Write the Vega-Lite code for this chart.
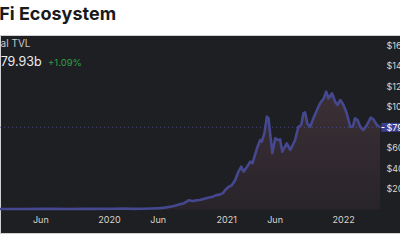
{
  "$schema": "https://vega.github.io/schema/vega-lite/v6.json",
  "width": 400,
  "height": 198,
  "autosize": {"type": "none"},
  "padding": {"top": 35, "left": 0, "right": 0, "bottom": 7},
  "background": "white",
  "title": {
    "text": "DeFi Ecosystem",
    "anchor": "start",
    "frame": "group",
    "font": "Inter",
    "fontSize": 18,
    "fontWeight": "bold",
    "color": "#1a1a1a",
    "dx": -24.5,
    "offset": 11
  },
  "config": {
    "view": {"fill": "#1e1f23", "stroke": "#d0d0d0", "strokeWidth": 1},
    "axis": {"labelFont": "Inter", "labelFontSize": 9, "labelColor": "#d9d6cc", "domain": false, "grid": false, "title": null}
  },
  "data": {
    "values": [
      {"date": "2019-01-26", "tvl": 0.5},
      {"date": "2019-03-01", "tvl": 0.5},
      {"date": "2019-04-15", "tvl": 0.55},
      {"date": "2019-06-01", "tvl": 0.6},
      {"date": "2019-07-15", "tvl": 0.6},
      {"date": "2019-09-01", "tvl": 0.55},
      {"date": "2019-10-15", "tvl": 0.6},
      {"date": "2019-12-01", "tvl": 0.65},
      {"date": "2020-01-15", "tvl": 0.7},
      {"date": "2020-02-15", "tvl": 0.9},
      {"date": "2020-03-15", "tvl": 0.6},
      {"date": "2020-04-15", "tvl": 0.8},
      {"date": "2020-05-15", "tvl": 1.0},
      {"date": "2020-06-10", "tvl": 1.3},
      {"date": "2020-06-24", "tvl": 1.8},
      {"date": "2020-07-05", "tvl": 2.4},
      {"date": "2020-07-15", "tvl": 3.0},
      {"date": "2020-07-25", "tvl": 3.6},
      {"date": "2020-08-09", "tvl": 5.0},
      {"date": "2020-08-20", "tvl": 5.8},
      {"date": "2020-08-30", "tvl": 7.6},
      {"date": "2020-09-05", "tvl": 9.0},
      {"date": "2020-09-19", "tvl": 8.3},
      {"date": "2020-10-01", "tvl": 9.0},
      {"date": "2020-10-11", "tvl": 9.2},
      {"date": "2020-10-25", "tvl": 10.5},
      {"date": "2020-11-05", "tvl": 11.5},
      {"date": "2020-11-20", "tvl": 12.5},
      {"date": "2020-12-01", "tvl": 14.0},
      {"date": "2020-12-12", "tvl": 14.5},
      {"date": "2020-12-22", "tvl": 16.0},
      {"date": "2020-12-29", "tvl": 19.0},
      {"date": "2021-01-08", "tvl": 22.0},
      {"date": "2021-01-19", "tvl": 23.8},
      {"date": "2021-01-29", "tvl": 28.7},
      {"date": "2021-02-08", "tvl": 36.8},
      {"date": "2021-02-17", "tvl": 41.6},
      {"date": "2021-02-24", "tvl": 36.8},
      {"date": "2021-03-07", "tvl": 41.6},
      {"date": "2021-03-17", "tvl": 46.5},
      {"date": "2021-03-24", "tvl": 45.0},
      {"date": "2021-04-07", "tvl": 59.5},
      {"date": "2021-04-17", "tvl": 67.6},
      {"date": "2021-04-22", "tvl": 66.0},
      {"date": "2021-04-30", "tvl": 74.0},
      {"date": "2021-05-08", "tvl": 90.3},
      {"date": "2021-05-13", "tvl": 88.7},
      {"date": "2021-05-18", "tvl": 74.0},
      {"date": "2021-05-25", "tvl": 54.7},
      {"date": "2021-06-03", "tvl": 69.3},
      {"date": "2021-06-11", "tvl": 67.6},
      {"date": "2021-06-18", "tvl": 68.2},
      {"date": "2021-06-25", "tvl": 56.2},
      {"date": "2021-07-09", "tvl": 64.4},
      {"date": "2021-07-20", "tvl": 58.0},
      {"date": "2021-08-04", "tvl": 67.6},
      {"date": "2021-08-14", "tvl": 80.5},
      {"date": "2021-08-23", "tvl": 82.2},
      {"date": "2021-08-30", "tvl": 93.6},
      {"date": "2021-09-04", "tvl": 94.5},
      {"date": "2021-09-11", "tvl": 83.8},
      {"date": "2021-09-20", "tvl": 80.5},
      {"date": "2021-09-30", "tvl": 88.7},
      {"date": "2021-10-11", "tvl": 96.8},
      {"date": "2021-10-21", "tvl": 103.3},
      {"date": "2021-11-01", "tvl": 108.0},
      {"date": "2021-11-09", "tvl": 114.6},
      {"date": "2021-11-16", "tvl": 108.0},
      {"date": "2021-11-27", "tvl": 113.0},
      {"date": "2021-12-07", "tvl": 104.9},
      {"date": "2021-12-14", "tvl": 101.7},
      {"date": "2021-12-23", "tvl": 106.5},
      {"date": "2022-01-02", "tvl": 101.7},
      {"date": "2022-01-12", "tvl": 93.6},
      {"date": "2022-01-23", "tvl": 80.5},
      {"date": "2022-01-31", "tvl": 80.5},
      {"date": "2022-02-07", "tvl": 88.7},
      {"date": "2022-02-15", "tvl": 87.0},
      {"date": "2022-02-23", "tvl": 80.5},
      {"date": "2022-03-05", "tvl": 77.3},
      {"date": "2022-03-16", "tvl": 82.2},
      {"date": "2022-03-28", "tvl": 89.5},
      {"date": "2022-04-06", "tvl": 87.5},
      {"date": "2022-04-16", "tvl": 82.2},
      {"date": "2022-04-26", "tvl": 79.93}
    ]
  },
  "encoding": {
    "x": {
      "field": "date", "type": "temporal",
      "scale": {"domain": [1548460800000, 1651190400000], "range": [0, 381]},
      "axis": {
        "orient": "bottom", "offset": -21, "labelPadding": 3, "ticks": false,
        "values": [1559347200000, 1577836800000, 1590969600000, 1609459200000, 1622505600000, 1640995200000],
        "labelExpr": "utcmonth(datum.value) == 0 ? utcFormat(datum.value, '%Y') : utcFormat(datum.value, '%b')"
      }
    },
    "y": {
      "field": "tvl", "type": "quantitative",
      "scale": {"domain": [-22.86, 169.73], "nice": false, "zero": false},
      "axis": {
        "orient": "right", "offset": -19, "labelPadding": 2, "zindex": 2,
        "values": [20, 40, 60, 79.93, 100, 120, 140, 160],
        "ticks": true, "tickSize": 3,
        "tickColor": {"condition": {"test": "datum.value == 79.93", "value": "#ffffff"}, "value": "transparent"},
        "labelColor": {"condition": {"test": "datum.value == 79.93", "value": "#ffffff"}, "value": "#d9d6cc"},
        "labelExpr": "'$' + datum.value + 'b'"
      }
    }
  },
  "layer": [
    {
      "mark": {
        "type": "area",
        "color": {
          "gradient": "linear", "x1": 0, "y1": 0, "x2": 0, "y2": 1,
          "stops": [
            {"offset": 0, "color": "#3c3036"},
            {"offset": 1, "color": "#28242a"}
          ]
        }
      },
      "encoding": {"y2": {"datum": 0}}
    },
    {
      "transform": [{"filter": "datum.tvl == 79.93"}],
      "mark": {"type": "rule", "color": "#5254a8", "strokeDash": [1, 3], "strokeWidth": 1, "opacity": 0.7},
      "encoding": {
        "x": {"datum": 1548460800000, "type": "temporal"},
        "x2": {"datum": 1651190400000}
      }
    },
    {
      "mark": {"type": "line", "color": "#45478f", "strokeWidth": 2.6, "strokeJoin": "round"}
    },
    {
      "transform": [{"filter": "datum.tvl == 79.93"}],
      "mark": {"type": "rule", "color": "#3b3e8f", "strokeWidth": 9, "strokeCap": "butt"},
      "encoding": {
        "x": {"datum": 1651276800000, "type": "temporal"},
        "x2": {"datum": 1659139200000}
      }
    },
    {
      "transform": [{"filter": "datum.tvl == 79.93"}],
      "mark": {"type": "text", "text": "Total TVL", "align": "left", "baseline": "alphabetic", "font": "Inter", "fontSize": 10, "color": "#c9c9cc"},
      "encoding": {
        "x": {"datum": 1544572800000, "type": "temporal"},
        "y": {"datum": 158.35, "type": "quantitative"}
      }
    },
    {
      "transform": [{"filter": "datum.tvl == 79.93"}],
      "mark": {"type": "text", "text": "$79.93b", "align": "left", "baseline": "alphabetic", "font": "Inter", "fontSize": 12.5, "color": "#ececec"},
      "encoding": {
        "x": {"datum": 1546473600000, "type": "temporal"},
        "y": {"datum": 139.58, "type": "quantitative"}
      }
    },
    {
      "transform": [{"filter": "datum.tvl == 79.93"}],
      "mark": {"type": "text", "text": "+1.09%", "align": "left", "baseline": "alphabetic", "font": "Inter", "fontSize": 9.5, "color": "#2ea043"},
      "encoding": {
        "x": {"datum": 1561420800000, "type": "temporal"},
        "y": {"datum": 139.58, "type": "quantitative"}
      }
    }
  ]
}
